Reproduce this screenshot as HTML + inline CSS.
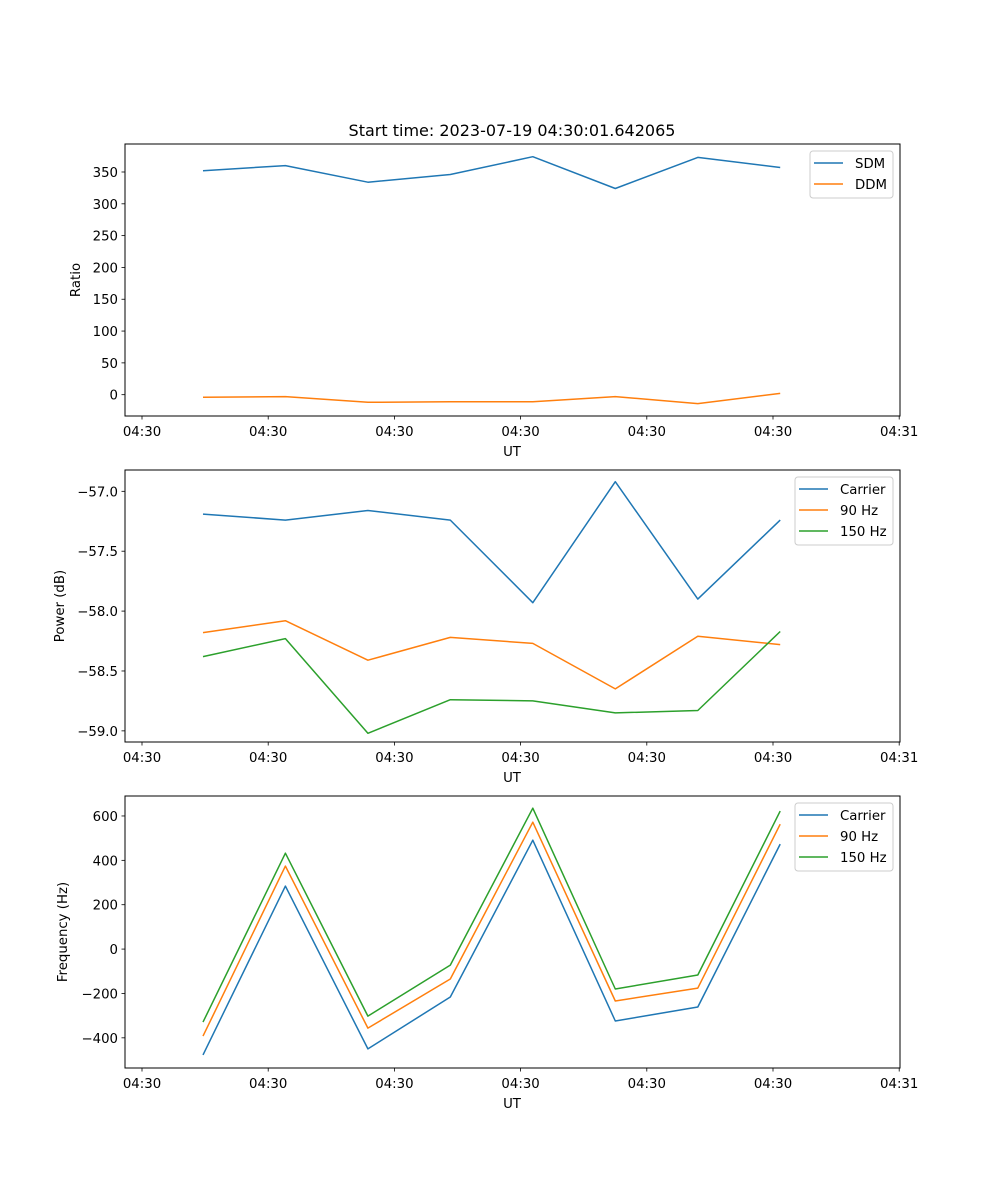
<!DOCTYPE html>
<html><head><meta charset="utf-8"><style>
body{margin:0;background:#fff}
svg{display:block;font-family:"DejaVu Sans","Liberation Sans",sans-serif}
</style></head><body>
<svg id="fig" width="1000" height="1200" viewBox="0 0 1000 1200" xmlns="http://www.w3.org/2000/svg">
<rect width="1000" height="1200" fill="#fff"/>
<text x="512" y="136" text-anchor="middle" font-size="16">Start time: 2023-07-19 04:30:01.642065</text>
</svg>
<script>
// x positions of samples in tick units (tick index 0..6)
const xTickLabels = ["04:30","04:30","04:30","04:30","04:30","04:30","04:31"];
const sampleX = [0.483,1.136,1.790,2.443,3.097,3.750,4.404,5.057];
// Panel 1
const ratioTicks = [0,50,100,150,200,250,300,350];
const sdm = [352,360,334,346,374,324,373,357];
const ddm = [-4,-3,-12,-11,-11,-3,-14,2];
// Panel 2
const powerTicks = [-57.0,-57.5,-58.0,-58.5,-59.0];
const powCarrier = [-57.19,-57.24,-57.16,-57.24,-57.93,-56.92,-57.90,-57.24];
const pow90 = [-58.18,-58.08,-58.41,-58.22,-58.27,-58.65,-58.21,-58.28];
const pow150 = [-58.38,-58.23,-59.02,-58.74,-58.75,-58.85,-58.83,-58.17];
// Panel 3
const freqTicks = [600,400,200,0,-200,-400];
const freqCarrier = [-477,284,-450,-216,491,-324,-261,473];
const freq90 = [-392,374,-356,-135,572,-234,-176,563];
const freq150 = [-329,432,-302,-72,635,-180,-117,622];

const NS="http://www.w3.org/2000/svg";
const svg=document.getElementById('fig');
function mk(tag,attrs,parent){const e=document.createElementNS(NS,tag);for(const k in attrs)e.setAttribute(k,attrs[k]);(parent||svg).appendChild(e);return e;}
const L=125,R=900;
const xs=v=>142+v*126.2;
const C1="#1f77b4",C2="#ff7f0e",C3="#2ca02c";
const FS=13.3;

function panel(name,top,bot,ymin,ymax,ticks,fmt,ylabel,series,legend){
  const g=mk('g',{});
  
  
  const ys=v=>bot-(v-ymin)/(ymax-ymin)*(bot-top);
  series.forEach(s=>{
    const pts=s.data.map((v,i)=>xs(sampleX[i]).toFixed(1)+','+ys(v).toFixed(1)).join(' ');
    const p=mk('polyline',{points:pts,fill:'none',stroke:s.color,'stroke-width':1.5,'stroke-linejoin':'round'},g);
    
    
  });
  mk('rect',{x:L,y:top,width:R-L,height:bot-top,fill:'none',stroke:'#000','stroke-width':1},g);
  ticks.forEach(t=>{
    const y=ys(t);
    mk('line',{x1:L-3.5,x2:L,y1:y,y2:y,stroke:'#000','stroke-width':0.8},g);
    const tx=mk('text',{x:L-7,y:y+5,'text-anchor':'end','font-size':FS},g);
    tx.textContent=fmt(t);
    
    
  });
  xTickLabels.forEach((lab,i)=>{
    const x=xs(i);
    mk('line',{x1:x,x2:x,y1:bot,y2:bot+3.5,stroke:'#000','stroke-width':0.8},g);
    const tx=mk('text',{x:x,y:bot+20,'text-anchor':'middle','font-size':FS},g);
    tx.textContent=lab;
    
    
  });
  const xl=mk('text',{x:512,y:bot+40,'text-anchor':'middle','font-size':FS},g);
  xl.textContent='UT';
  
  
  const cy=(top+bot)/2;
  const yl=mk('text',{x:0,y:0,'text-anchor':'middle','font-size':FS,transform:`translate(${ylabel.x},${cy}) rotate(-90)`},g);
  yl.textContent=ylabel.t;
  
  
  const lg=mk('g',{},g);
  
  
  const h=legend.length*21+5;
  mk('rect',{x:legend.x,y:top+7,width:R-7-legend.x,height:h,rx:3,fill:'#fff','fill-opacity':0.8,stroke:'#ccc','stroke-width':1},lg);
  legend.forEach((s,i)=>{
    const y=top+19+i*21;
    mk('line',{x1:legend.x+4,x2:legend.x+33,y1:y,y2:y,stroke:s.color,'stroke-width':1.5},lg);
    const t=mk('text',{x:legend.x+45,y:y+5,'font-size':FS},lg);
    t.textContent=s.label;
    
    
  });
}
panel('ratio-panel',144,416,-33.5,394,ratioTicks,v=>String(v),{x:80,t:'Ratio'},
  [{name:'sdm',data:sdm,color:C1},{name:'ddm',data:ddm,color:C2}],
  Object.assign([{label:'SDM',color:C1},{label:'DDM',color:C2}],{x:810}));
panel('power-panel',470,742,-59.093,-56.822,powerTicks,v=>'\u2212'+Math.abs(v).toFixed(1),{x:64,t:'Power (dB)'},
  [{name:'carrier',data:powCarrier,color:C1},{name:'90hz',data:pow90,color:C2},{name:'150hz',data:pow150,color:C3}],
  Object.assign([{label:'Carrier',color:C1},{label:'90 Hz',color:C2},{label:'150 Hz',color:C3}],{x:795}));
panel('frequency-panel',796,1068,-536,690,freqTicks,v=>v<0?'\u2212'+Math.abs(v):String(v),{x:67,t:'Frequency (Hz)'},
  [{name:'carrier',data:freqCarrier,color:C1},{name:'90hz',data:freq90,color:C2},{name:'150hz',data:freq150,color:C3}],
  Object.assign([{label:'Carrier',color:C1},{label:'90 Hz',color:C2},{label:'150 Hz',color:C3}],{x:795}));
</script>
</body></html>
